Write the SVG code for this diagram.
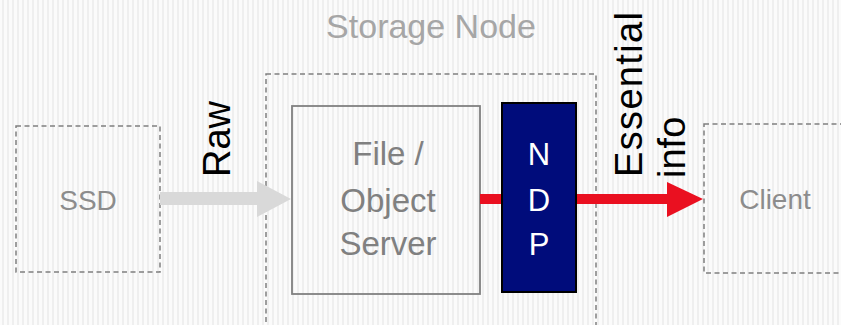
<svg xmlns="http://www.w3.org/2000/svg" width="841" height="325" viewBox="0 0 841 325">
<defs>
<pattern id="stripes" width="5" height="10" patternUnits="userSpaceOnUse">
<rect width="5" height="10" fill="#fbfbfb"/>
<rect x="2" width="2" height="10" fill="#efefef"/>
</pattern>
</defs>
<style>
.dash{fill:none;stroke:#808080;stroke-width:1.5;stroke-dasharray:5 3.5}
.lbl{font-family:"Liberation Sans",Arial,sans-serif;fill:#8c8c8c;text-anchor:middle}
.big{font-family:"Liberation Sans",Arial,sans-serif;fill:#000;font-size:38px}
.ndp{font-family:"Liberation Sans",Arial,sans-serif;fill:#fff;font-size:31px;text-anchor:middle}
</style>
<rect width="841" height="325" fill="url(#stripes)"/>
<text x="431" y="38" class="lbl" style="font-size:34px;fill:#a6a6a6">Storage Node</text>
<g id="storage-node">
<rect x="266" y="74" width="330" height="270" class="dash"/>
</g>
<g id="ssd">
<rect x="16" y="126" width="144" height="146" class="dash"/>
<text x="88" y="210" class="lbl" style="font-size:28px">SSD</text>
</g>
<g id="client">
<rect x="704" y="124" width="150" height="149" class="dash"/>
<text x="775" y="209" class="lbl" style="font-size:28px">Client</text>
</g>
<g id="server">
<rect x="292" y="106" width="188" height="188" fill="none" stroke="#808080" stroke-width="1.8"/>
<text class="lbl" style="font-size:33px;fill:#808080"><tspan x="388" y="165">File /</tspan><tspan x="388" y="212">Object</tspan><tspan x="388" y="255">Server</tspan></text>
</g>
<g id="connectors">
<polygon points="160,192 257,192 257,181 291,199 257,217 257,205 160,205" fill="#d9d9d9"/>
<rect x="480" y="194" width="23" height="10" fill="#ea1020"/>
<polygon points="576,194 667,194 667,182 703,199 667,217 667,204 576,204" fill="#ea1020"/>
<text class="big" transform="translate(230,177) rotate(-90)">Raw</text>
<text class="big" transform="translate(642,177) rotate(-90)" textLength="165">Essential</text>
<text class="big" transform="translate(685,178) rotate(-90)">info</text>
</g>
<g id="ndp">
<rect x="502" y="103" width="74" height="189" fill="#000c7b" stroke="#000" stroke-width="2"/>
<text class="ndp"><tspan x="539" y="165">N</tspan><tspan x="539" y="211">D</tspan><tspan x="539" y="255">P</tspan></text>
</g>
</svg>
